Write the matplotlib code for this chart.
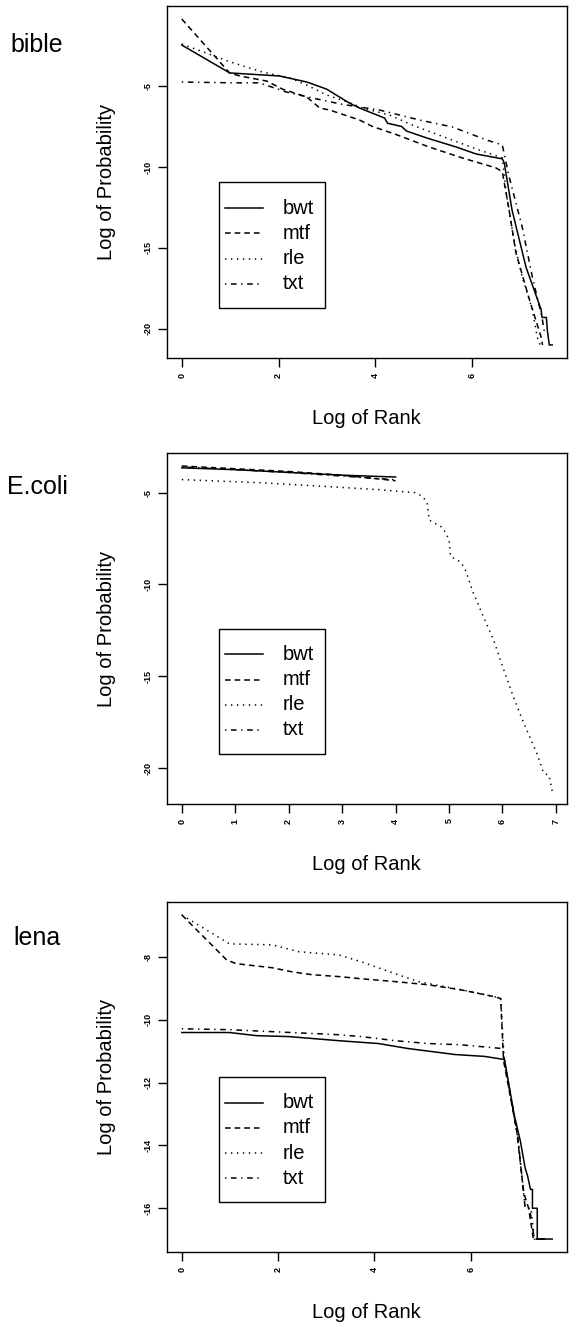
import matplotlib
matplotlib.use("Agg")
import matplotlib.pyplot as plt
from matplotlib.patches import Rectangle

plt.rcParams['font.family'] = ['Liberation Sans', 'DejaVu Sans']

W, H = 573, 1324

# ---- bible ----
bible_bwt_x = [0, 0.99, 2.02, 2.58, 2.99, 3.46, 3.67, 4.19, 4.25, 4.54, 4.64, 5.05, 5.67, 6.08,
               6.62, 6.66, 6.82, 7.11, 7.42, 7.44, 7.53, 7.55, 7.59, 7.65]
bible_bwt_y = [-2.47, -4.19, -4.38, -4.75, -5.19, -6.05, -6.36, -6.98, -7.3, -7.5, -7.78, -8.2, -8.77, -9.2,
               -9.5, -9.75, -12.65, -16.2, -18.8, -19.3, -19.3, -20.1, -21.0, -21.0]
bible_mtf_x = [0, 0.99, 1.2, 1.75, 2.08, 2.58, 2.85, 3.05, 3.67, 3.94, 4.43, 5.11, 5.79, 6.49,
               6.62, 6.76, 6.9, 7.18, 7.42, 7.45]
bible_mtf_y = [-0.86, -4.2, -4.38, -4.69, -5.19, -5.68, -6.36, -6.48, -7.1, -7.5, -8.0, -8.77, -9.44, -10.06,
               -10.3, -12.65, -15.3, -18.2, -20.5, -21.0]
bible_rle_x = [0, 0.99, 1.67, 2.23, 2.58, 2.99, 3.53, 3.73, 4.29, 4.76, 5.46, 6.14, 6.62,
               6.7, 6.87, 7.03, 7.24, 7.34, 7.4]
bible_rle_y = [-2.4, -3.5, -4.14, -4.5, -4.94, -5.55, -6.1, -6.36, -6.79, -7.41, -8.2, -8.95, -9.44,
               -11.6, -14.7, -16.8, -18.8, -20.5, -21.0]
bible_txt_x = [0, 0.99, 1.6, 2.16, 2.7, 3.26, 3.67, 4.08, 4.91, 5.59, 6.29, 6.62,
               6.76, 7.03, 7.24, 7.44, 7.5]
bible_txt_y = [-4.75, -4.8, -4.8, -5.37, -5.74, -6.1, -6.3, -6.48, -7.1, -7.53, -8.33, -8.64,
               -10.6, -13.7, -16.8, -19.3, -20.4]

# ---- E.coli ----
ecoli_bwt_x = [0, 1, 2, 3, 4]
ecoli_bwt_y = [-3.65, -3.75, -3.9, -4.05, -4.15]
ecoli_mtf_x = [0, 1, 2, 3, 3.5, 4]
ecoli_mtf_y = [-3.55, -3.7, -3.85, -4.05, -4.2, -4.35]
ecoli_rle_x = [0, 1.46, 2.73, 3.68, 4.36, 4.5, 4.59, 4.63, 4.88, 5.0, 5.03, 5.2, 5.29, 5.45,
               5.64, 5.83, 6.02, 6.2, 6.39, 6.64, 6.77, 6.87, 6.93]
ecoli_rle_y = [-4.29, -4.46, -4.67, -4.84, -5.0, -5.2, -5.54, -6.5, -6.9, -7.55, -8.48, -8.75, -9.08, -10.43,
               -11.74, -12.99, -14.62, -16.09, -17.5, -19.18, -20.27, -20.4, -21.25]
ecoli_txt_x = [0, 1, 2, 3, 3.5, 4]
ecoli_txt_y = [-3.6, -3.75, -3.9, -4.1, -4.2, -4.3]

# ---- lena ----
lena_bwt_x = [0, 0.99, 1.55, 2.23, 3.26, 4.08, 4.7, 5.67, 6.29, 6.7, 6.9, 7.03, 7.13, 7.18,
              7.24, 7.28, 7.28, 7.38, 7.38, 7.69]
lena_bwt_y = [-10.41, -10.41, -10.51, -10.54, -10.67, -10.76, -10.92, -11.11, -11.17, -11.27, -13.02, -13.87, -14.73, -14.98,
              -15.4, -15.4, -16.0, -16.0, -16.98, -16.98]
lena_mtf_x = [0, 0.93, 1.13, 1.88, 2.29, 2.7, 3.26, 3.73, 4.43, 5.11, 5.79, 6.49, 6.62,
              6.68, 6.95, 7.1, 7.2, 7.3, 7.45]
lena_mtf_y = [-6.67, -8.1, -8.22, -8.35, -8.48, -8.57, -8.63, -8.7, -8.79, -8.89, -9.05, -9.27, -9.33,
              -11.3, -13.5, -15.5, -16.0, -16.98, -16.98]
lena_rle_x = [0, 0.99, 1.88, 2.43, 3.26, 3.73, 4.43, 4.91, 5.46, 6.0, 6.49, 6.62,
              6.7, 6.98, 7.13, 7.25, 7.32, 7.6]
lena_rle_y = [-6.67, -7.59, -7.62, -7.84, -7.94, -8.16, -8.54, -8.79, -8.95, -9.11, -9.27, -9.33,
              -11.4, -13.8, -16.0, -16.0, -16.98, -16.98]
lena_txt_x = [0, 0.99, 3.26, 3.73, 4.43, 5.11, 5.79, 6.66, 6.72, 6.97, 7.13, 7.22, 7.32, 7.55]
lena_txt_y = [-10.29, -10.32, -10.48, -10.54, -10.67, -10.76, -10.8, -10.92, -11.5, -13.65, -16.0, -16.0, -16.98, -16.98]

names = ["bwt", "mtf", "rle", "txt"]
styles = ["-", (0, (3.7, 2.6)), (0, (0.9, 3.0)), (0, (0.9, 3.0, 3.7, 3.0))]

panels = [
    ("bible", [(bible_bwt_x, bible_bwt_y), (bible_mtf_x, bible_mtf_y),
               (bible_rle_x, bible_rle_y), (bible_txt_x, bible_txt_y)],
     [0, 2, 4, 6], [-20, -15, -10, -5], 6, 358, 45),
    ("E.coli", [(ecoli_bwt_x, ecoli_bwt_y), (ecoli_mtf_x, ecoli_mtf_y),
                (ecoli_rle_x, ecoli_rle_y), (ecoli_txt_x, ecoli_txt_y)],
     [0, 1, 2, 3, 4, 5, 6, 7], [-20, -15, -10, -5], 453, 804, 487),
    ("lena", [(lena_bwt_x, lena_bwt_y), (lena_mtf_x, lena_mtf_y),
              (lena_rle_x, lena_rle_y), (lena_txt_x, lena_txt_y)],
     [0, 2, 4, 6], [-16, -14, -12, -10, -8], 902, 1252, 938),
]

fig = plt.figure(figsize=(W / 100, H / 100), dpi=100)

left, right = 167, 567
for title, series, xt, yt, top, bottom, ty in panels:
    ax = fig.add_axes([left / W, 1 - bottom / H, (right - left) / W, (bottom - top) / H])
    for (x, y), ls in zip(series, styles):
        ax.plot(x, y, color="black", lw=1.1, linestyle=ls)
    ax.margins(0.04)
    ax.set_xticks(xt)
    ax.set_xticklabels([str(v) for v in xt], rotation=90, fontsize=6.5, fontweight="bold")
    ax.set_yticks(yt)
    ax.set_yticklabels([str(v) for v in yt], rotation=90, fontsize=6.5, fontweight="bold",
                       va="center")
    ax.tick_params(length=6.5, width=1.0, pad=4)
    for s in ax.spines.values():
        s.set_linewidth(1.0)

    # legend box
    ax.add_patch(Rectangle((0.13, 0.142), 0.265, 0.358, transform=ax.transAxes,
                           fill=False, lw=1.0, ec="black"))
    for i, (nm, ls) in enumerate(zip(names, styles)):
        yy = 0.426 - i * 0.0717
        ax.plot([0.145, 0.24], [yy, yy], transform=ax.transAxes, color="black",
                lw=1.1, linestyle=ls)
        ax.text(0.29, yy, nm, transform=ax.transAxes, fontsize=14.5, va="center", ha="left")

    fig.text(366 / W, 1 - (bottom + 60) / H, "Log of Rank", fontsize=14.5, ha="center", va="center")
    fig.text(106 / W, 1 - ((top + bottom) / 2) / H, "Log of Probability", fontsize=14.5,
             rotation=90, ha="center", va="center")
    fig.text(37 / W, 1 - ty / H, title, fontsize=18, ha="center", va="center")

fig.savefig("out.png", dpi=100)
